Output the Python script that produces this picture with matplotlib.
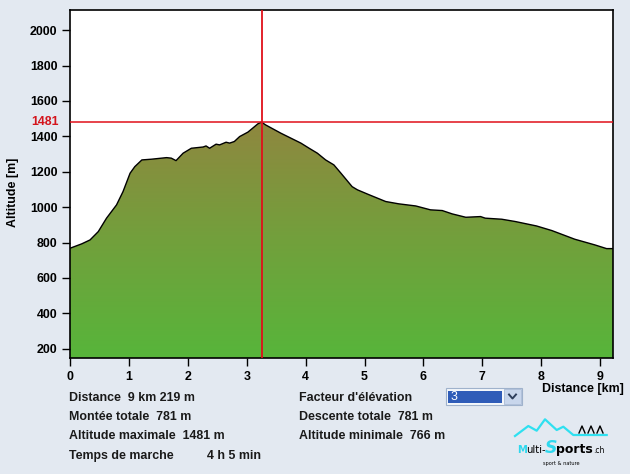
import numpy as np
import matplotlib
matplotlib.use("Agg")
import matplotlib.pyplot as plt
from matplotlib.colors import LinearSegmentedColormap
from matplotlib.patches import Rectangle, Polygon
from matplotlib.lines import Line2D

# ---------------- data ----------------
distance_km = [0.00, 0.20, 0.34, 0.48, 0.62, 0.79, 0.90, 1.02, 1.10, 1.22, 1.38, 1.64,
               1.72, 1.80, 1.92, 2.06, 2.26, 2.31, 2.37, 2.48, 2.54, 2.65, 2.71, 2.79,
               2.88, 3.02, 3.10, 3.19, 3.25, 3.32, 3.58, 3.75, 3.92, 4.06, 4.20, 4.34,
               4.48, 4.60, 4.79, 4.88, 5.08, 5.22, 5.36, 5.58, 5.87, 6.12, 6.32, 6.49,
               6.72, 6.97, 7.05, 7.33, 7.56, 7.92, 8.18, 8.57, 8.91, 9.11, 9.219]
altitude_m = [768, 793, 815, 862, 938, 1013, 1088, 1192, 1229, 1267, 1271, 1280,
              1277, 1263, 1305, 1333, 1340, 1346, 1333, 1356, 1352, 1367, 1362, 1371,
              1399, 1424, 1446, 1471, 1481, 1465, 1418, 1390, 1362, 1333, 1305, 1267,
              1239, 1192, 1116, 1098, 1070, 1051, 1032, 1019, 1007, 985, 981, 962,
              943, 947, 938, 932, 919, 894, 868, 819, 787, 766, 766]
x_ticks = [0, 1, 2, 3, 4, 5, 6, 7, 8, 9]
y_ticks = [200, 400, 600, 800, 1000, 1200, 1400, 1600, 1800, 2000]
cursor_km = 3.26
cursor_alt = 1481
info_left = [("Distance", "9 km 219 m"), ("Montée totale", "781 m"),
             ("Altitude maximale", "1481 m")]
info_right = [("Descente totale", "781 m"), ("Altitude minimale", "766 m")]
walk_label = "Temps de marche"
walk_value = "4 h 5 min"
factor_label = "Facteur d'élévation"
factor_value = "3"

# ---------------- style ----------------
BG = "#e3e9f1"
FONT = "Liberation Sans"
FS = 8.9
W, H = 630, 474

def fx(px):
    return px / W

def fy(py):
    return 1 - py / H

fig = plt.figure(figsize=(6.3, 4.74), dpi=100, facecolor=BG)
ax = fig.add_axes([fx(70), fy(358), fx(613) - fx(70), fy(10) - fy(358)])
ax.set_facecolor("white")
xmin, xmax = 0, 9.219
ymin, ymax = 148, 2114
ax.set_xlim(xmin, xmax)
ax.set_ylim(ymin, ymax)

# gradient fill under the profile
cmap = LinearSegmentedColormap.from_list("terrain", ["#57b53a", "#72a03c", "#8f873f"])
grad = np.linspace(0, 1, 256).reshape(-1, 1)
img = ax.imshow(grad, cmap=cmap, origin="lower", aspect="auto",
                extent=[xmin, xmax, ymin, max(altitude_m)], zorder=1)
poly_xy = [(xmin, ymin)] + list(zip(distance_km, altitude_m)) + [(xmax, ymin)]
poly = Polygon(poly_xy, closed=True, facecolor="none", edgecolor="none")
ax.add_patch(poly)
img.set_clip_path(poly)
ax.plot(distance_km, altitude_m, color="black", lw=1.0, zorder=3)

# crosshair
ax.axvline(cursor_km, color="#e0101a", lw=1.3, zorder=4)
ax.axhline(cursor_alt, color="#e0101a", lw=1.1, zorder=4)

ax.set_xticks(x_ticks)
ax.set_yticks(y_ticks)
ax.tick_params(direction="out", length=6, width=1, color="black", pad=3)
for lab in ax.get_xticklabels() + ax.get_yticklabels():
    lab.set_fontfamily(FONT)
    lab.set_fontweight("bold")
    lab.set_fontsize(FS)
for s in ax.spines.values():
    s.set_color("black")
    s.set_linewidth(1.2)

ax.text(-0.02, cursor_alt, str(cursor_alt), transform=ax.get_yaxis_transform(),
        ha="right", va="center", color="#d4141c", fontfamily=FONT,
        fontweight="bold", fontsize=FS)

fig.text(fx(13), fy(192), "Altitude [m]", rotation=90, ha="center", va="center",
         fontfamily=FONT, fontweight="bold", fontsize=FS)
fig.text(fx(624), fy(389), "Distance [km]", ha="right", va="center",
         fontfamily=FONT, fontweight="bold", fontsize=FS)

# info text
tkw = dict(fontfamily=FONT, fontweight="bold", fontsize=FS, va="center", color="#1a1a1a")
rows_y = [398, 417, 436]
for (lab, val), y in zip(info_left, rows_y):
    fig.text(fx(69), fy(y), f"{lab}  {val}", **tkw)
fig.text(fx(69), fy(456), walk_label, **tkw)
fig.text(fx(207), fy(456), walk_value, **tkw)
fig.text(fx(299), fy(398), factor_label, **tkw)
for (lab, val), y in zip(info_right, rows_y[1:]):
    fig.text(fx(299), fy(y), f"{lab}  {val}", **tkw)

# dropdown
fig.patches.append(Rectangle((fx(446), fy(405)), fx(522) - fx(446), fy(388) - fy(405),
                             transform=fig.transFigure, facecolor="#f4f7fb",
                             edgecolor="#9fb2cc", lw=0.8))
fig.patches.append(Rectangle((fx(448), fy(403)), fx(502) - fx(448), fy(391) - fy(403),
                             transform=fig.transFigure, facecolor="#2f5cb8",
                             edgecolor="none"))
fig.patches.append(Rectangle((fx(504), fy(404)), fx(521) - fx(504), fy(389) - fy(404),
                             transform=fig.transFigure, facecolor="#c8d6ec",
                             edgecolor="#a9bbd6", lw=0.6))
fig.lines.append(Line2D([fx(509), fx(512.5), fx(516)], [fy(394.5), fy(398.5), fy(394.5)],
                        transform=fig.transFigure, color="#2d3e5c", lw=1.4))
fig.text(fx(451), fy(397), factor_value, color="white", fontfamily=FONT,
         fontsize=FS, va="center")

# logo
mx = [515, 528.3, 536.7, 545, 556.7, 563.3, 573.3, 606.7]
my = [436, 426, 430.7, 419.3, 430, 426.7, 435, 435]
fig.lines.append(Line2D([fx(v) for v in mx], [fy(v) for v in my],
                        transform=fig.transFigure, color="#2fe0f0", lw=1.6))
lkw = dict(fontfamily="DejaVu Sans", va="baseline", ha="left")
fig.text(fx(517), fy(453), "M", color="#2fd8ee", fontweight="bold", fontsize=7.2, **lkw)
fig.text(fx(526.5), fy(453), "ulti-", color="black", fontsize=7.2, **lkw)
fig.text(fx(545), fy(453), "S", color="#2fd8ee", fontweight="bold", fontsize=12.5,
         style="italic", **lkw)
fig.text(fx(556), fy(453), "ports", color="black", fontweight="bold", fontsize=9, **lkw)
fig.text(fx(593), fy(453), ".ch", color="black", fontsize=5.5, **lkw)
fig.text(fx(561), fy(463), "sport & nature", color="black", fontfamily="DejaVu Sans",
         fontsize=3.6, va="center", ha="center")
for cx in [582, 591, 600]:
    fig.lines.append(Line2D([fx(cx - 3), fx(cx), fx(cx + 3)], [fy(433), fy(426), fy(433)],
                            transform=fig.transFigure, color="black", lw=1.0))

fig.savefig("out.png", dpi=100, facecolor=BG)
